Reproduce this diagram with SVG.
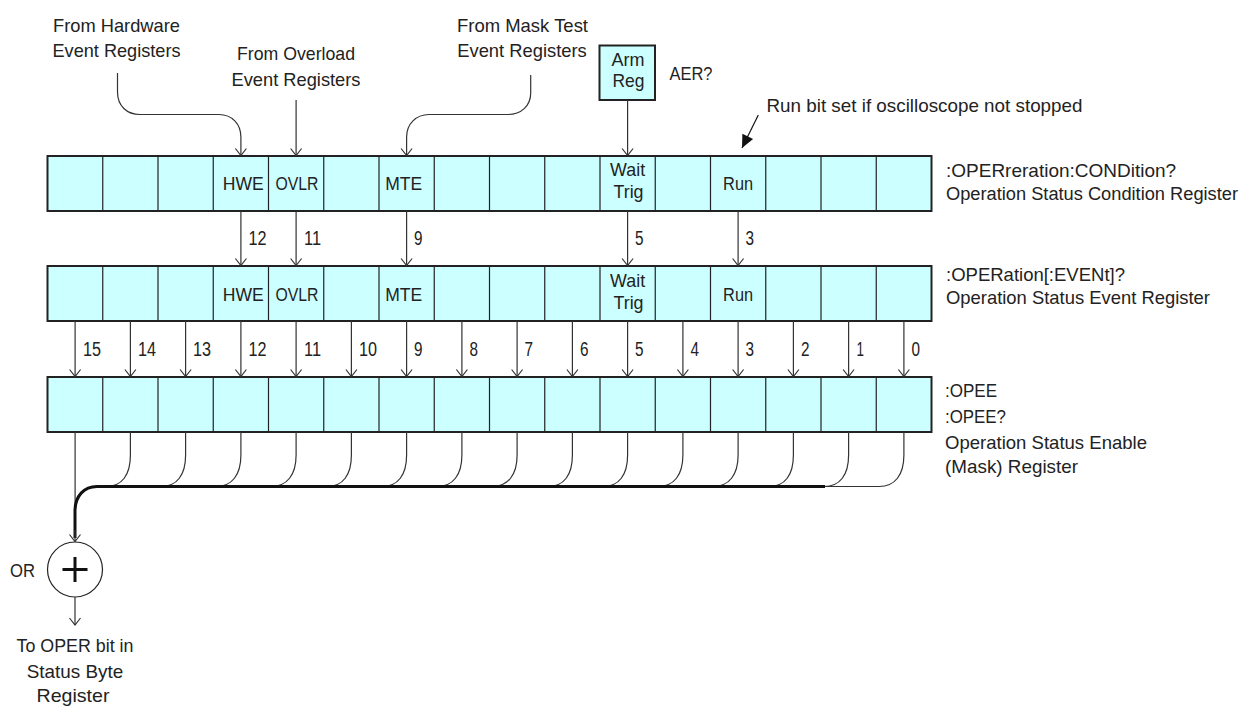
<svg xmlns="http://www.w3.org/2000/svg" width="1246" height="706" viewBox="0 0 1246 706">
<style>
text{font-family:"Liberation Sans",Arial,sans-serif;fill:#222}
.t{font-size:19px}
.c{font-size:18.5px;text-anchor:middle}
.n{font-size:20px}
.m{text-anchor:middle}
.reg{fill:#ccffff;stroke:#222;stroke-width:2}
.div{stroke:#222;stroke-width:1.2}
.ln{fill:none;stroke:#333;stroke-width:1.2}
.bus{fill:none;stroke:#111;stroke-width:3}
</style>
<defs>
<marker id="open" viewBox="-8 -7 10 14" markerWidth="10" markerHeight="14" refX="0" refY="0" orient="auto" markerUnits="userSpaceOnUse">
<path d="M-7,-5.5 L0,0 L-7,5.5" fill="none" stroke="#333" stroke-width="1.2"/>
</marker>
<marker id="filled" viewBox="-14 -7 15 14" markerWidth="15" markerHeight="14" refX="0" refY="0" orient="auto" markerUnits="userSpaceOnUse">
<path d="M0,0 L-13,-6 L-13,6 Z" fill="#111"/>
</marker>
</defs>

<g id="label-hardware">
<text class="t m" x="116.5" y="31.5" textLength="127" lengthAdjust="spacingAndGlyphs">From Hardware</text>
<text class="t m" x="116.5" y="57" textLength="128" lengthAdjust="spacingAndGlyphs">Event Registers</text>
</g>
<g id="label-overload">
<text class="t m" x="296" y="60" textLength="118" lengthAdjust="spacingAndGlyphs">From Overload</text>
<text class="t m" x="296" y="85.5" textLength="129" lengthAdjust="spacingAndGlyphs">Event Registers</text>
</g>
<g id="label-masktest">
<text class="t m" x="522.5" y="31.5" textLength="131" lengthAdjust="spacingAndGlyphs">From Mask Test</text>
<text class="t m" x="522" y="57" textLength="129.5" lengthAdjust="spacingAndGlyphs">Event Registers</text>
</g>
<g id="arm-reg">
<rect x="599.5" y="45.5" width="55.5" height="54.5" class="reg"/>
<text class="c" x="628" y="66" textLength="33" lengthAdjust="spacingAndGlyphs">Arm</text>
<text class="c" x="628.5" y="87" textLength="32" lengthAdjust="spacingAndGlyphs">Reg</text>
<text class="t" x="669.5" y="80" textLength="43" lengthAdjust="spacingAndGlyphs">AER?</text>
</g>
<g id="run-note">
<text class="t" x="766.5" y="112" textLength="316" lengthAdjust="spacingAndGlyphs">Run bit set if oscilloscope not stopped</text>
</g>

<g id="condition-register">
<rect x="47.5" y="156" width="884" height="55" class="reg"/>
<path class="div" d="M102.75,156V211M158,156V211M213.25,156V211M268.5,156V211M323.75,156V211M379,156V211M434.25,156V211M489.5,156V211M544.75,156V211M600,156V211M655.25,156V211M710.5,156V211M765.75,156V211M821,156V211M876.25,156V211"/>
<text class="c" x="243.3" y="190" textLength="41" lengthAdjust="spacingAndGlyphs">HWE</text>
<text class="c" x="297" y="190" textLength="43" lengthAdjust="spacingAndGlyphs">OVLR</text>
<text class="c" x="403.7" y="190" textLength="37" lengthAdjust="spacingAndGlyphs">MTE</text>
<text class="c" x="627.6" y="176" textLength="35" lengthAdjust="spacingAndGlyphs">Wait</text>
<text class="c" x="628.5" y="197.5" textLength="30" lengthAdjust="spacingAndGlyphs">Trig</text>
<text class="c" x="738.1" y="190" textLength="30" lengthAdjust="spacingAndGlyphs">Run</text>
<text class="t" x="946" y="176.5">:OPERreration:CONDition?</text>
<text class="t" x="946" y="200" style="font-size:18px" textLength="292" lengthAdjust="spacingAndGlyphs">Operation Status Condition Register</text>
</g>

<g id="event-register">
<rect x="47.5" y="266" width="884" height="55" class="reg"/>
<path class="div" d="M102.75,266V321M158,266V321M213.25,266V321M268.5,266V321M323.75,266V321M379,266V321M434.25,266V321M489.5,266V321M544.75,266V321M600,266V321M655.25,266V321M710.5,266V321M765.75,266V321M821,266V321M876.25,266V321"/>
<text class="c" x="243.3" y="300.5" textLength="41" lengthAdjust="spacingAndGlyphs">HWE</text>
<text class="c" x="297" y="300.5" textLength="43" lengthAdjust="spacingAndGlyphs">OVLR</text>
<text class="c" x="403.7" y="300.5" textLength="37" lengthAdjust="spacingAndGlyphs">MTE</text>
<text class="c" x="627.6" y="286.5" textLength="35" lengthAdjust="spacingAndGlyphs">Wait</text>
<text class="c" x="628.5" y="308.5" textLength="30" lengthAdjust="spacingAndGlyphs">Trig</text>
<text class="c" x="738.1" y="300.5" textLength="30" lengthAdjust="spacingAndGlyphs">Run</text>
<text class="t" x="946" y="281" textLength="179" lengthAdjust="spacingAndGlyphs">:OPERation[:EVENt]?</text>
<text class="t" x="946" y="303.5" textLength="264" lengthAdjust="spacingAndGlyphs">Operation Status Event Register</text>
</g>

<g id="enable-register">
<rect x="47.5" y="377" width="884" height="55" class="reg"/>
<path class="div" d="M102.75,377V432M158,377V432M213.25,377V432M268.5,377V432M323.75,377V432M379,377V432M434.25,377V432M489.5,377V432M544.75,377V432M600,377V432M655.25,377V432M710.5,377V432M765.75,377V432M821,377V432M876.25,377V432"/>
<text class="t" x="945" y="397" textLength="52" lengthAdjust="spacingAndGlyphs">:OPEE</text>
<text class="t" x="945" y="423" textLength="61" lengthAdjust="spacingAndGlyphs">:OPEE?</text>
<text class="t" x="945" y="448.5" textLength="202" lengthAdjust="spacingAndGlyphs">Operation Status Enable</text>
<text class="t" x="945" y="473" textLength="133" lengthAdjust="spacingAndGlyphs">(Mask) Register</text>
</g>

<g id="or-gate">
<circle cx="75" cy="569.5" r="27.5" fill="#fff" stroke="#222" stroke-width="1.2"/>
<path d="M62.5,569.5H87.5M75,557V582" stroke="#111" stroke-width="3" fill="none"/>
<text class="t" x="10" y="577" textLength="25" lengthAdjust="spacingAndGlyphs">OR</text>
</g>
<g id="output-label">
<text class="t m" x="75" y="651.5" textLength="117" lengthAdjust="spacingAndGlyphs">To OPER bit in</text>
<text class="t m" x="75" y="677.5" textLength="96.5" lengthAdjust="spacingAndGlyphs">Status Byte</text>
<text class="t m" x="73" y="701.5" textLength="73" lengthAdjust="spacingAndGlyphs">Register</text>
</g>

<g id="connectors">
<path class="ln" marker-end="url(#open)" d="M117.5,73V92C117.5,106 127,114.5 140,114.5H219C232,114.5 240.9,124 240.9,137V155.5"/>
<path class="ln" marker-end="url(#open)" d="M296.1,100V155.5"/>
<path class="ln" marker-end="url(#open)" d="M530.7,75V93C530.7,106 521,114.5 508,114.5H429C416,114.5 406.6,124 406.6,137V155.5"/>
<path class="ln" marker-end="url(#open)" d="M627.6,100V155.5"/>
<path fill="none" stroke="#111" stroke-width="1.2" marker-end="url(#filled)" d="M758.3,115L742,148"/>

<path class="ln" marker-end="url(#open)" d="M240.9,211V265.5"/>
<path class="ln" marker-end="url(#open)" d="M296.1,211V265.5"/>
<path class="ln" marker-end="url(#open)" d="M406.6,211V265.5"/>
<path class="ln" marker-end="url(#open)" d="M627.6,211V265.5"/>
<path class="ln" marker-end="url(#open)" d="M738.1,211V265.5"/>
<text class="n" x="248.5" y="245" textLength="18" lengthAdjust="spacingAndGlyphs">12</text>
<text class="n" x="304" y="245" textLength="17" lengthAdjust="spacingAndGlyphs">11</text>
<text class="n" x="414" y="245" textLength="8.5" lengthAdjust="spacingAndGlyphs">9</text>
<text class="n" x="635" y="245" textLength="8.5" lengthAdjust="spacingAndGlyphs">5</text>
<text class="n" x="745.5" y="245" textLength="8.5" lengthAdjust="spacingAndGlyphs">3</text>

<path class="ln" marker-end="url(#open)" d="M75.1,321V376.5"/>
<path class="ln" marker-end="url(#open)" d="M130.4,321V376.5"/>
<path class="ln" marker-end="url(#open)" d="M185.6,321V376.5"/>
<path class="ln" marker-end="url(#open)" d="M240.9,321V376.5"/>
<path class="ln" marker-end="url(#open)" d="M296.1,321V376.5"/>
<path class="ln" marker-end="url(#open)" d="M351.4,321V376.5"/>
<path class="ln" marker-end="url(#open)" d="M406.6,321V376.5"/>
<path class="ln" marker-end="url(#open)" d="M461.9,321V376.5"/>
<path class="ln" marker-end="url(#open)" d="M517.1,321V376.5"/>
<path class="ln" marker-end="url(#open)" d="M572.4,321V376.5"/>
<path class="ln" marker-end="url(#open)" d="M627.6,321V376.5"/>
<path class="ln" marker-end="url(#open)" d="M682.9,321V376.5"/>
<path class="ln" marker-end="url(#open)" d="M738.1,321V376.5"/>
<path class="ln" marker-end="url(#open)" d="M793.4,321V376.5"/>
<path class="ln" marker-end="url(#open)" d="M848.6,321V376.5"/>
<path class="ln" marker-end="url(#open)" d="M903.9,321V376.5"/>
<text class="n" x="83" y="356" textLength="18" lengthAdjust="spacingAndGlyphs">15</text>
<text class="n" x="138" y="356" textLength="18" lengthAdjust="spacingAndGlyphs">14</text>
<text class="n" x="193" y="356" textLength="18" lengthAdjust="spacingAndGlyphs">13</text>
<text class="n" x="248.5" y="356" textLength="18" lengthAdjust="spacingAndGlyphs">12</text>
<text class="n" x="304" y="356" textLength="17" lengthAdjust="spacingAndGlyphs">11</text>
<text class="n" x="359" y="356" textLength="18" lengthAdjust="spacingAndGlyphs">10</text>
<text class="n" x="414" y="356" textLength="8.5" lengthAdjust="spacingAndGlyphs">9</text>
<text class="n" x="469.5" y="356" textLength="8.5" lengthAdjust="spacingAndGlyphs">8</text>
<text class="n" x="524.5" y="356" textLength="8.5" lengthAdjust="spacingAndGlyphs">7</text>
<text class="n" x="580" y="356" textLength="8.5" lengthAdjust="spacingAndGlyphs">6</text>
<text class="n" x="635" y="356" textLength="8.5" lengthAdjust="spacingAndGlyphs">5</text>
<text class="n" x="690.5" y="356" textLength="8.5" lengthAdjust="spacingAndGlyphs">4</text>
<text class="n" x="745.5" y="356" textLength="8.5" lengthAdjust="spacingAndGlyphs">3</text>
<text class="n" x="801" y="356" textLength="8.5" lengthAdjust="spacingAndGlyphs">2</text>
<text class="n" x="856.5" y="356" textLength="7.5" lengthAdjust="spacingAndGlyphs">1</text>
<text class="n" x="911.5" y="356" textLength="8.5" lengthAdjust="spacingAndGlyphs">0</text>

<path class="ln" d="M75.1,432V512"/>
<path class="ln" d="M130.4,432V455C130.4,475 122,486.5 106,486.5"/>
<path class="ln" d="M185.6,432V455C185.6,475 177,486.5 161,486.5"/>
<path class="ln" d="M240.9,432V455C240.9,475 232,486.5 216,486.5"/>
<path class="ln" d="M296.1,432V455C296.1,475 287,486.5 271,486.5"/>
<path class="ln" d="M351.4,432V455C351.4,475 343,486.5 327,486.5"/>
<path class="ln" d="M406.6,432V455C406.6,475 398,486.5 382,486.5"/>
<path class="ln" d="M461.9,432V455C461.9,475 453,486.5 437,486.5"/>
<path class="ln" d="M517.1,432V455C517.1,475 508,486.5 492,486.5"/>
<path class="ln" d="M572.4,432V455C572.4,475 564,486.5 548,486.5"/>
<path class="ln" d="M627.6,432V455C627.6,475 619,486.5 603,486.5"/>
<path class="ln" d="M682.9,432V455C682.9,475 674,486.5 658,486.5"/>
<path class="ln" d="M738.1,432V455C738.1,475 729,486.5 713,486.5"/>
<path class="ln" d="M793.4,432V455C793.4,475 785,486.5 769,486.5"/>
<path class="ln" d="M848.6,432V455C848.6,475 840,486.5 824,486.5"/>
<path class="ln" stroke="#777" d="M903.9,432V455C903.9,475 895,486.5 879,486.5H824"/>
<path class="bus" d="M825,486.5H97C84,486.5 75,496 75,511V538"/>
<path class="ln" marker-end="url(#open)" d="M75,530V541.5"/>
<path class="ln" marker-end="url(#open)" d="M75,597V625"/>
</g>
</svg>
